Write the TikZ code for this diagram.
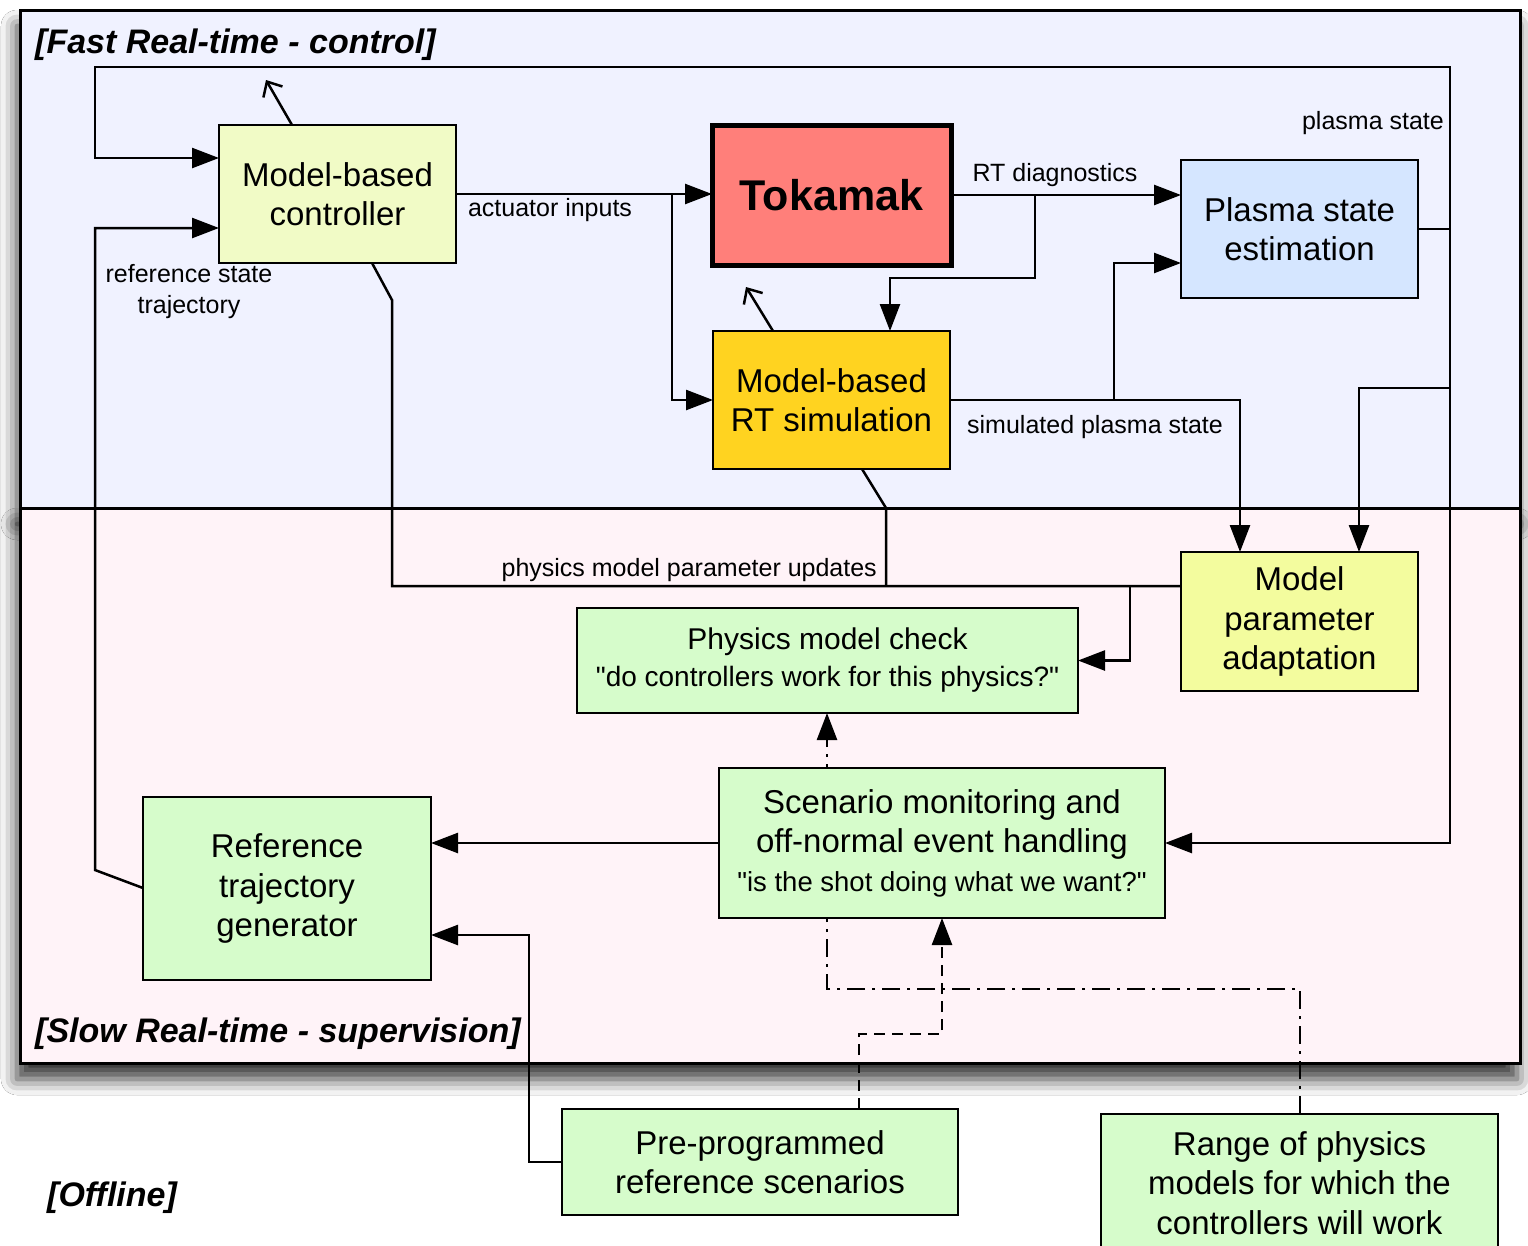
\documentclass[tikz,border=0pt]{standalone}
\usepackage{fontspec}
\setmainfont{Liberation Sans}[Ligatures=TeXOff]
\usetikzlibrary{arrows.meta,shadows.blur,calc}
\pgfdeclarelayer{bg}
\pgfdeclarelayer{conn}
\pgfsetlayers{bg,conn,main}
\newcommand\fsz[2]{\fontsize{#1}{#2}\selectfont}
\definecolor{topbg}{HTML}{F0F2FF}
\definecolor{botbg}{HTML}{FFF3F8}
\definecolor{ctrlc}{HTML}{F1FBC6}
\definecolor{tokc}{HTML}{FF7F7A}
\definecolor{psec}{HTML}{D5E6FF}
\definecolor{simc}{HTML}{FFD320}
\definecolor{mpac}{HTML}{F3FC9E}
\definecolor{grnc}{HTML}{D6FCCB}
\begin{document}
\begin{tikzpicture}[x=1pt,y=-1pt,
  box/.style={draw, line width=2.6pt, anchor=north west, inner sep=0pt, outer sep=0pt, align=center, font=\fsz{33}{39.5}},
  arr/.style={line width=2.5pt, -{Triangle[length=27pt,width=20pt,fill=black]}},
  ln/.style={line width=2.5pt},
  openarr/.style={line width=2.5pt, -{Straight Barb[length=12pt,width=22pt,line width=2.5pt]}},
  lbl/.style={font=\fsz{25}{30}, inner sep=0pt},
  ttl/.style={font=\fsz{34}{40}\bfseries\itshape, inner sep=0pt, anchor=base west},
  dashdot/.style={dash pattern=on 18pt off 7pt on 3pt off 7pt},
  dsh/.style={dash pattern=on 11pt off 7pt}]
\useasboundingbox (0,0) rectangle (1528,1245);
\begin{pgfonlayer}{bg}
\fill[white] (0,0) rectangle (1528,1245);
\draw[line width=3pt, fill=topbg, blur shadow={shadow xshift=-3pt, shadow yshift=-16pt, shadow blur radius=16pt, shadow opacity=80}] (20,10) rectangle (1520,508);
\draw[line width=3pt, fill=botbg, blur shadow={shadow xshift=-3pt, shadow yshift=-16pt, shadow blur radius=16pt, shadow opacity=80}] (20,508) rectangle (1520,1063);
\end{pgfonlayer}

% titles
\node[ttl] (t1) at (35,53) {[Fast Real-time - control]};
\node[ttl] (t2) at (35,1042) {[Slow Real-time - supervision]};
\node[ttl] (t3) at (47,1206) {[Offline]};

% boxes
\node[box, fill=ctrlc, minimum width=237pt, minimum height=138pt] (ctrl) at (219,125) {Model-based\\controller};
\node[box, fill=tokc, line width=5pt, minimum width=239pt, minimum height=140pt, font=\fsz{43}{50}\bfseries] (tok) at (712,125) {Tokamak};
\node[box, fill=psec, minimum width=237pt, minimum height=138pt] (pse) at (1181,160) {Plasma state\\estimation};
\node[box, fill=simc, minimum width=237pt, minimum height=138pt] (sim) at (713,331) {Model-based\\RT simulation};
\node[box, fill=mpac, minimum width=237pt, minimum height=139pt] (mpa) at (1181,552) {Model\\parameter\\adaptation};
\node[box, fill=grnc, minimum width=501pt, minimum height=105pt, font=\fsz{30}{37}] (phy) at (577,608) {Physics model check\\{\fsz{28}{37}"do controllers work for this physics?"}};
\node[box, fill=grnc, minimum width=446pt, minimum height=150pt, font=\fsz{33}{39}] (scn) at (719,768) {Scenario monitoring and\\off-normal event handling\\{\fsz{27.5}{39}"is the shot doing what we want?"}};
\node[box, fill=grnc, minimum width=288pt, minimum height=183pt] (ref) at (143,797) {Reference\\trajectory\\generator};
\node[box, fill=grnc, minimum width=396pt, minimum height=106pt] (pre) at (562,1109) {Pre-programmed\\reference scenarios};
\node[box, fill=grnc, minimum width=397pt, minimum height=138pt] (rng) at (1101,1114) {Range of physics\\models for which the\\controllers will work};

% edge labels
\node[lbl, anchor=base] (l1) at (550,216) {actuator inputs};
\node[lbl, anchor=base] (l2) at (1055,181) {RT diagnostics};
\node[lbl, anchor=base east] (l3) at (1444,129) {plasma state};
\node[lbl, anchor=base] (l4) at (189,282) {reference state};
\node[lbl, anchor=base] (l5) at (189,313) {trajectory};
\node[lbl, anchor=base] (l6) at (1095,433) {simulated plasma state};
\node[lbl, anchor=base east] (l7) at (877,576) {physics model parameter updates};

\begin{pgfonlayer}{conn}
\coordinate (c1) at (672,194);
\coordinate (c2) at (1035,194);
\coordinate (c3) at (1114,400);
\coordinate (c4) at (1450,388);
\coordinate (c5) at (1130,586);
\draw[arr] (ctrl.east) -- (ctrl.east -| tok.west);
\draw[arr] (c1) |- (sim.west);
\draw[arr] (tok.east) -- (tok.east -| pse.west);
\draw[arr] (c2) -- (1035,278) -| (sim.north -| 890,0);
\draw[arr] (sim.east) -| (mpa.north -| 1240,0);
\draw[arr] (c3) |- (pse.west |- 0,263);
\draw[arr] (pse.east) -| (1450,67) -| (95,158) -- (ctrl.west |- 0,158);
\draw[arr] (pse.east) -| (1450,843) -- (scn.east);
\draw[arr] (c4) -| (mpa.north -| 1359,0);
\draw[arr] (ref.west |- 0,888) -- (95,870) -- (95,228) -- (ctrl.west |- 0,228);
\draw[ln] (ctrl.south -| 372,0) -- (392,300) -- (392,586) -- (mpa.west |- 0,586);
\draw[ln] (sim.south -| 862,0) -- (886,508) -- (886,586);
\draw[arr] (c5) |- (phy.east);
\draw[openarr] (ctrl.north -| 292,0) -- (266,80);
\draw[openarr] (sim.north -| 773,0) -- (746,287);
\draw[arr] (scn.west) -- (scn.west -| ref.east);
\draw[arr] (pre.west) -| (529,935) -- (ref.east |- 0,935);
\draw[arr,dashdot] (rng.north -| 1300,0) -- (1300,989) -| (phy.south -| 827,0);
\draw[arr,dsh] (pre.north -| 859,0) |- (942,1034) -- (scn.south -| 942,0);
\end{pgfonlayer}
\end{tikzpicture}
\end{document}
